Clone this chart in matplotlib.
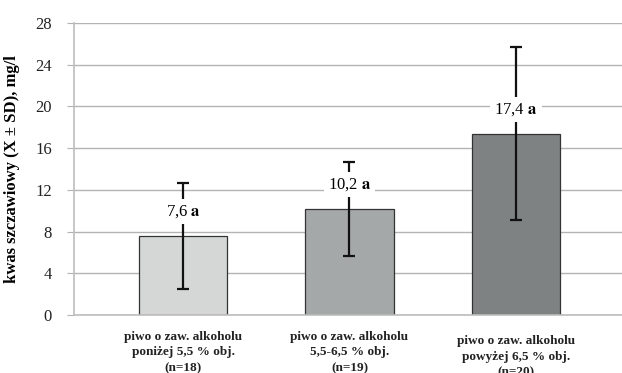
import matplotlib
matplotlib.use("Agg")
import matplotlib.pyplot as plt
import matplotlib.transforms as mtransforms

# dane
categories = [
    "piwo o zaw. alkoholu\nponiżej 5,5 % obj.\n(n=18)",
    "piwo o zaw. alkoholu\n5,5-6,5 % obj.\n(n=19)",
    "piwo o zaw. alkoholu\npowyżej 6,5 % obj.\n(n=20)",
]
means = [7.6, 10.2, 17.4]
sd = [5.1, 4.5, 8.3]
labels = ["7,6", "10,2", "17,4"]
letters = ["a", "a", "a"]
colors = ["#d5d7d6", "#a5a8a8", "#7f8282"]

plt.rcParams["font.family"] = ["Liberation Serif", "DejaVu Serif"]
plt.rcParams["mathtext.fontset"] = "stix"

fig = plt.figure(figsize=(6.22, 3.73), dpi=100)
ax = fig.add_axes([74 / 622, 1 - 315 / 373, 1 - 74 / 622, 292 / 373])

x = list(range(len(means)))
ax.bar(x, means, width=0.53, color=colors, edgecolor="#333333", linewidth=0.9, zorder=2)
ax.errorbar(x, means, yerr=sd, fmt="none", ecolor="#111111", elinewidth=1.6,
            capsize=4.5, capthick=1.6, zorder=3)

for xi, m, lab, let in zip(x, means, labels, letters):
    ax.annotate(lab + " " + r"$\mathbf{" + let + "}$", (xi, m + 2.3), ha="center", va="center",
                fontsize=12, zorder=4,
                bbox=dict(boxstyle="square,pad=0.25", fc="white", ec="none"))

ax.set_xlim(-0.655, 2.637)
ax.set_ylim(0, 28)
ax.set_yticks(range(0, 29, 4))
ax.yaxis.grid(True, color="#b3b3b3", linewidth=1.0, zorder=0)
ax.set_axisbelow(True)
for s in ["top", "right"]:
    ax.spines[s].set_visible(False)
ax.spines["left"].set_color("#bdbdbd")
ax.spines["bottom"].set_color("#bdbdbd")
ax.spines["left"].set_linewidth(1.2)
ax.spines["bottom"].set_linewidth(1.2)
ax.tick_params(axis="y", length=5, color="#b3b3b3", pad=11, labelsize=12, labelcolor="#222222")
ax.tick_params(axis="x", length=0)
ax.set_xticks([])

trans = mtransforms.blended_transform_factory(ax.transData, ax.transAxes)
offsets = [-0.054, -0.054, -0.07]
for xi, cat, off in zip(x, categories, offsets):
    ax.text(xi, off, cat, transform=trans, ha="center", va="top", fontsize=9.5,
            fontweight="bold", linespacing=1.4, color="#222222")

ax.set_ylabel("kwas szczawiowy (X ± SD), mg/l", fontsize=12, fontweight="bold", labelpad=11)

fig.savefig("out.png", dpi=100)
